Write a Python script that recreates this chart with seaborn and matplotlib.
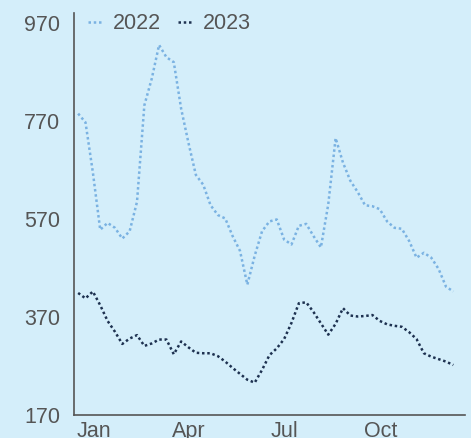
import numpy as np
import pandas as pd
import matplotlib
matplotlib.use("Agg")
import matplotlib.pyplot as plt
import seaborn as sns
from matplotlib import font_manager

# weekly values (52 weeks, starting Jan 1)
vals_2022 = [785, 767, 665, 548, 562, 552, 530, 545, 605, 802,
             856, 925, 900, 890, 795, 725, 660, 640, 598, 578,
             571, 535, 505, 436, 495, 545, 565, 569, 528, 518,
             556, 560, 535, 512, 600, 735, 685, 648, 625, 598,
             596, 590, 565, 552, 550, 525, 491, 501, 491, 468,
             432, 422]
vals_2023 = [419, 408, 422, 394, 362, 340, 315, 326, 333, 311,
             316, 324, 324, 294, 320, 308, 297, 296, 296, 290,
             279, 266, 254, 242, 236, 262, 292, 306, 325, 358,
             398, 400, 380, 357, 334, 356, 388, 373, 371, 372,
             374, 362, 355, 352, 350, 339, 325, 296, 289, 284,
             279, 272]
years = ["2022", "2023"]
month_labels = ["Jan", "Apr", "Jul", "Oct"]
month_ticks = [15, 105, 196, 288]  # day of year, mid-month
y_ticks = [170, 370, 570, 770, 970]

BG = "#d4eefa"
TEXT = "#555555"
palette = {"2022": "#7ab2e2", "2023": "#1d3150"}

days = np.arange(len(vals_2022)) * 7
df = pd.DataFrame({
    "day": np.concatenate([days, days]),
    "value": vals_2022 + vals_2023,
    "year": ["2022"] * len(vals_2022) + ["2023"] * len(vals_2023),
})

sns.set_style("white")
installed = {f.name for f in font_manager.fontManager.ttflist}
family = next((f for f in ["Liberation Sans", "Roboto", "DejaVu Sans"] if f in installed), "DejaVu Sans")
plt.rcParams["font.family"] = [family, "DejaVu Sans"]

fig = plt.figure(figsize=(4.71, 4.38), dpi=100, facecolor=BG)
ax = fig.add_axes([0.157, 0.0525, 0.83, 0.9175])
ax.set_facecolor(BG)

sns.lineplot(data=df, x="day", y="value", hue="year", palette=palette,
             linewidth=1.8, legend=False, ax=ax)
for line in ax.lines:
    line.set_linestyle((0, (1, 1.1)))
    line.set_dash_capstyle("butt")

ax.set_xlim(-4, 368)
ax.set_ylim(170, 990)
ax.set_yticks(y_ticks)
ax.set_xticks(month_ticks)
ax.set_xticklabels(month_labels)
ax.set_xlabel("")
ax.set_ylabel("")
ax.tick_params(axis="both", length=0, labelsize=15.5, labelcolor=TEXT)
ax.tick_params(axis="y", pad=10)
ax.tick_params(axis="x", pad=4)

for side in ["top", "right"]:
    ax.spines[side].set_visible(False)
for side in ["left", "bottom"]:
    ax.spines[side].set_color("#555555")
    ax.spines[side].set_linewidth(1.2)

leg = ax.legend(handles=ax.lines, labels=years, loc="center left",
                bbox_to_anchor=(0.035, 0.973), ncol=2, frameon=False,
                fontsize=15.5, handlelength=0.7, handletextpad=0.45,
                columnspacing=0.8, borderpad=0, borderaxespad=0)
for t in leg.get_texts():
    t.set_color(TEXT)

fig.savefig("out.png", dpi=100, facecolor=BG)
